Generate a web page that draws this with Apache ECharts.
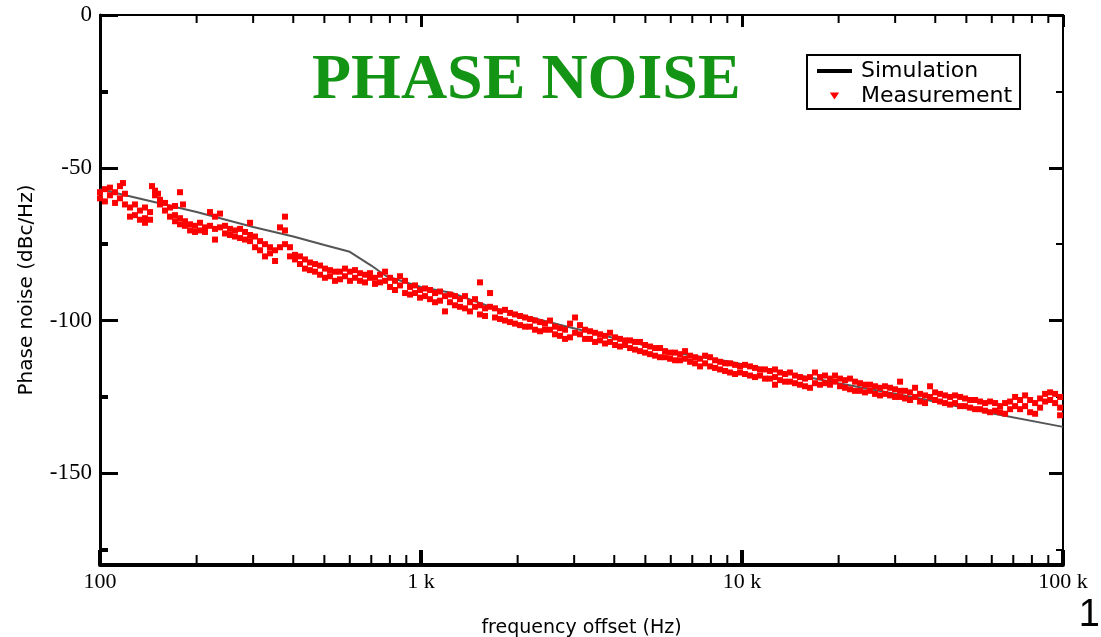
<!DOCTYPE html>
<html>
<head>
<meta charset="utf-8">
<title>Phase noise</title>
<script src="https://cdn.jsdelivr.net/npm/echarts@6.0.0/dist/echarts.min.js"></script>
<style>
  html, body { margin: 0; padding: 0; background: #fff; }
  #chart { width: 1101px; height: 637px; }
</style>
</head>
<body>
<div id="chart"></div>
<script>
// axis ranges
const xMin = 100;
const xMax = 100000;
const yMin = -180;
const yMax = 0;

// tick values
const xMinorTicks = [200, 300, 400, 500, 600, 700, 800, 900,
  2000, 3000, 4000, 5000, 6000, 7000, 8000, 9000,
  20000, 30000, 40000, 50000, 60000, 70000, 80000, 90000];
const yMajorTicks = [-150, -100, -50, 0];
const yMinorTicks = [-175, -125, -75, -25];

// simulation curve [Hz, dBc/Hz]
const simulation = [
  [100, -57], [200, -64.5], [300, -69.4], [400, -72.5], [500, -75.3], [600, -77.5],
  [700, -82], [780, -85.5], [1000, -89], [1250, -91], [1700, -96], [2860, -102],
  [4500, -107], [6200, -110.5], [9000, -113.3], [20000, -120.5], [34600, -125.2],
  [55000, -129.6], [100000, -134.8]
];

// measured points [Hz, dBc/Hz]
const measurement = [
  [100, -58], [100, -60], [103.6, -57], [103.6, -61], [107.4, -59], [107.4, -56.5],
  [111.4, -58], [111.4, -61.5], [115.4, -56], [115.4, -60], [117.9, -55],
  [119.6, -58.5], [119.6, -62], [124, -63], [124, -66], [128.5, -62], [128.5, -65.5],
  [133.2, -64], [133.2, -67], [138.1, -63], [138.1, -66.5], [138.1, -68],
  [143.2, -64.5], [143.2, -67], [145.2, -56], [148.4, -57.5], [148.4, -59], [151.6, -58.5],
  [153.8, -60.5], [153.8, -62], [159.4, -61.5], [159.4, -64], [165.2, -63], [165.2, -66],
  [171.3, -62.5], [171.3, -65.5], [171.3, -67.5], [177.5, -58], [177.5, -66.5], [177.5, -68.5],
  [181.4, -62], [184, -67.5], [184, -69], [190.8, -68.5], [190.8, -70.5],
  [197.7, -69], [197.7, -71], [204.9, -68], [204.9, -70.5], [212.4, -69.5], [212.4, -71],
  [220.1, -64.5], [220.1, -69], [228.2, -66], [228.2, -70], [228.2, -73.5],
  [236.5, -65], [236.5, -69.5], [245.2, -69], [245.2, -71.5], [254.1, -70], [254.1, -72],
  [263.4, -70.5], [263.4, -72.5], [273.1, -70], [273.1, -73], [283, -71], [283, -73.5],
  [293.4, -68], [293.4, -72], [293.4, -74], [304.1, -72.5], [304.1, -76],
  [315.2, -74], [315.2, -77], [326.6, -75], [326.6, -79], [338.5, -76], [338.5, -78],
  [351, -77], [351, -80.5], [363.7, -69.5], [363.7, -76], [377, -66], [377, -70.5], [377, -75],
  [390.8, -76], [390.8, -79], [405.1, -78.5], [405.1, -80], [419.8, -79], [419.8, -81.5],
  [435.2, -80], [435.2, -83], [451.1, -81], [451.1, -83.5], [467.6, -81.5], [467.6, -84],
  [484.7, -82], [484.7, -85], [502.1, -83], [502.1, -86], [520.6, -83.5], [520.6, -85.5],
  [539.6, -84], [539.6, -87], [559.3, -84], [559.3, -86.5], [579.8, -83], [579.8, -85.5],
  [600.9, -84], [600.9, -87], [622.9, -83.5], [622.9, -86], [645.7, -84.5], [645.7, -87],
  [669.2, -85], [669.2, -87.5], [693.7, -84.5], [693.7, -86], [719.1, -86], [719.1, -88],
  [745.4, -85], [745.4, -87.5], [772.7, -84], [772.7, -87], [800.9, -86], [800.9, -89],
  [830, -87], [830, -90], [860.4, -85.5], [860.4, -88.5], [891.9, -87], [891.9, -91],
  [924.4, -89], [924.4, -91.5], [958, -88.5], [958, -91], [993, -90], [993, -92.5],
  [1029, -89.5], [1029, -92], [1067, -90], [1067, -93], [1106, -91], [1106, -94],
  [1146, -90.5], [1146, -93.5], [1188, -92], [1188, -97], [1231, -91.5], [1231, -94],
  [1276, -92], [1276, -95], [1323, -93], [1323, -95.5], [1371, -92], [1371, -96],
  [1421, -94], [1421, -97], [1473, -93], [1473, -95.5], [1527, -87.5], [1527, -95], [1527, -98],
  [1583, -96], [1583, -98.5], [1641, -91], [1641, -95.5], [1700, -96], [1700, -99],
  [1763, -97], [1763, -99.5], [1827, -96.5], [1827, -100], [1894, -97.5], [1894, -100.5],
  [1963, -98], [1963, -101], [2035, -98.5], [2035, -101.5], [2109, -99], [2109, -102],
  [2186, -99.5], [2186, -102], [2266, -100], [2266, -103], [2349, -100.5], [2349, -103.5],
  [2434, -101], [2434, -103], [2523, -100], [2523, -103], [2615, -102], [2615, -104.5],
  [2711, -102.5], [2711, -105], [2810, -103], [2810, -106], [2913, -101], [2913, -105.5],
  [3019, -99], [3019, -104], [3129, -101.5], [3129, -104.5], [3244, -103], [3244, -106],
  [3362, -103.5], [3362, -106], [3485, -104], [3485, -107], [3612, -104.5], [3612, -106.5],
  [3744, -105], [3744, -107.5], [3881, -104], [3881, -107], [4023, -105.5], [4023, -108],
  [4169, -106], [4169, -108.5], [4322, -106.5], [4322, -108], [4480, -106.5], [4480, -109],
  [4643, -107], [4643, -109.5], [4813, -107], [4813, -110], [4989, -108], [4989, -110.5],
  [5171, -108.5], [5171, -111], [5360, -109], [5360, -111.5], [5555, -109], [5555, -112],
  [5758, -110], [5758, -112], [5969, -110.5], [5969, -112.5], [6187, -110.5], [6187, -113],
  [6413, -111], [6413, -113], [6647, -110], [6647, -112.5], [6890, -111.5], [6890, -113.5],
  [7141, -112], [7141, -114], [7402, -112.5], [7402, -115], [7673, -111.5], [7673, -114],
  [7953, -112], [7953, -115], [8243, -113], [8243, -115.5], [8544, -113.5], [8544, -116],
  [8857, -114], [8857, -116.5], [9180, -114], [9180, -117], [9515, -114.5], [9515, -117.5],
  [9863, -115], [9863, -117], [10217, -114.5], [10217, -117.5], [10590, -115], [10590, -118],
  [10977, -115.5], [10977, -118.5], [11378, -116], [11378, -118], [11794, -116], [11794, -119],
  [12225, -116.5], [12225, -119], [12671, -116], [12671, -118.5], [12671, -121],
  [13134, -117], [13134, -119.5], [13614, -117.5], [13614, -120], [14111, -117], [14111, -120],
  [14627, -118], [14627, -120.5], [15161, -118.5], [15161, -121], [15715, -119], [15715, -121.5],
  [16289, -118.5], [16289, -122], [16884, -117], [16884, -120.5], [17501, -118.5], [17501, -121],
  [18140, -118], [18140, -120.5], [18803, -119], [18803, -121], [19490, -118], [19490, -120],
  [20202, -119], [20202, -121.5], [20940, -119.5], [20940, -122], [21705, -119], [21705, -122.5],
  [22498, -120], [22498, -123], [23320, -120.5], [23320, -123], [24172, -121], [24172, -123.5],
  [25055, -121], [25055, -123], [25970, -121.5], [25970, -124], [26918, -122], [26918, -124.5],
  [27901, -121.5], [27901, -124], [28920, -122], [28920, -124.5], [29977, -122.5], [29977, -125],
  [31072, -120], [31072, -123], [31072, -125], [32207, -123], [32207, -125.5],
  [33383, -123.5], [33383, -126], [34602, -122], [34602, -125], [35866, -124], [35866, -126.5],
  [37176, -124.5], [37176, -127], [38534, -121.5], [38534, -125], [39942, -123.5], [39942, -126],
  [41401, -124], [41401, -126.5], [42913, -124.5], [42913, -127], [44481, -125], [44481, -127.5],
  [46106, -124.5], [46106, -127], [47790, -125], [47790, -128], [49536, -125.5], [49536, -128],
  [51345, -126], [51345, -128.5], [53221, -126], [53221, -129], [55165, -126.5], [55165, -129],
  [57180, -127], [57180, -129.5], [59269, -126.5], [59269, -130], [61434, -127], [61434, -129.5],
  [63678, -128], [63678, -130], [66004, -127], [66004, -130.5], [68415, -126.5], [68415, -129],
  [70914, -125], [70914, -128], [73505, -126], [73505, -129], [76190, -124.5], [76190, -128],
  [78973, -126], [78973, -130], [81858, -127], [81858, -130.5], [84848, -125.5], [84848, -128.5],
  [87947, -124], [87947, -126.5], [91160, -123.5], [91160, -126], [94490, -124], [94490, -127],
  [97941, -125], [97941, -128.5], [97941, -131]
];

const chart = echarts.init(document.getElementById('chart'));

const serif = 'Liberation Serif';
const sans = 'DejaVu Sans';

function freqLabel(v) {
  if (v >= 1000) return (v / 1000) + ' k';
  return String(v);
}

// extra y axes only carry ticks (minor ticks, right-hand frame)
function tickAxis(position, values, length, width, showLine) {
  return {
    type: 'value',
    min: yMin,
    max: yMax,
    position: position,
    axisLine: { show: showLine, onZero: false, lineStyle: { color: '#000', width: 2 } },
    axisTick: { show: true, inside: true, length: length, customValues: values,
      lineStyle: { color: '#000', width: width } },
    axisLabel: { show: false },
    splitLine: { show: false }
  };
}

const option = {
  backgroundColor: '#fff',
  animation: false,
  title: {
    text: 'PHASE NOISE',
    left: 312,
    top: 49,
    padding: 0,
    textStyle: { fontFamily: serif, fontWeight: 'bold', fontSize: 64, color: '#149414' }
  },
  legend: {
    orient: 'vertical',
    left: 807,
    top: 55,
    padding: [5, 8, 2, 10],
    itemGap: 3,
    itemWidth: 35,
    itemHeight: 7,
    borderColor: '#000',
    borderWidth: 2,
    textStyle: { fontFamily: sans, fontSize: 22, color: '#000', padding: [0, 0, 0, 4] },
    data: [
      { name: 'Simulation', icon: 'path://M0,0L36,0L36,4L0,4Z', itemStyle: { color: '#000' } },
      { name: 'Measurement', icon: 'path://M0,0L8,0L4,6Z', itemStyle: { color: '#ff0000' } }
    ]
  },
  grid: { left: 100, right: 38, top: 15, bottom: 72, containLabel: false, outerBoundsMode: 'none' },
  xAxis: [
    {
      type: 'log',
      logBase: 10,
      min: xMin,
      max: xMax,
      position: 'bottom',
      name: 'frequency offset (Hz)',
      nameLocation: 'middle',
      nameGap: 54,
      nameTextStyle: { fontFamily: sans, fontSize: 19, color: '#000' },
      axisLine: { onZero: false, lineStyle: { color: '#000', width: 4 } },
      axisTick: { inside: true, length: 15, lineStyle: { color: '#000', width: 4 } },
      axisLabel: { formatter: freqLabel, fontFamily: serif, fontSize: 22, color: '#000', margin: 6 },
      splitLine: { show: false }
    },
    {
      type: 'log',
      logBase: 10,
      min: xMin,
      max: xMax,
      position: 'top',
      axisLine: { onZero: false, lineStyle: { color: '#000', width: 2 } },
      axisTick: { inside: true, length: 12, lineStyle: { color: '#000', width: 3 } },
      axisLabel: { show: false },
      splitLine: { show: false }
    }
  ],
  yAxis: [
    {
      type: 'value',
      min: yMin,
      max: yMax,
      position: 'left',
      name: 'Phase noise (dBc/Hz)',
      nameLocation: 'middle',
      nameGap: 63,
      nameTextStyle: { fontFamily: sans, fontSize: 20, color: '#000' },
      axisLine: { show: true, onZero: false, lineStyle: { color: '#000', width: 3 } },
      axisTick: { show: true, inside: true, length: 18, customValues: yMajorTicks,
        lineStyle: { color: '#000', width: 3 } },
      axisLabel: { customValues: yMajorTicks, fontFamily: serif, fontSize: 23, color: '#000', margin: 8 },
      splitLine: { show: false }
    },
    tickAxis('left', yMinorTicks, 8, 4, false),
    tickAxis('right', yMajorTicks, 14, 3, true),
    tickAxis('right', yMinorTicks, 7, 2, false)
  ],
  graphic: [
    {
      type: 'text',
      right: 1,
      top: 597,
      style: { text: '1', font: '38px "Liberation Sans"', fill: '#000' }
    }
  ],
  series: [
    {
      name: 'Measurement',
      type: 'scatter',
      symbol: 'rect',
      symbolSize: 6,
      itemStyle: { color: '#ff0000', opacity: 1 },
      data: measurement,
      z: 3
    },
    {
      name: 'Simulation',
      type: 'line',
      symbol: 'none',
      smooth: false,
      lineStyle: { color: '#555', width: 2 },
      data: simulation,
      z: 2
    },
    {
      // minor log ticks (2..9 per decade) on bottom and top edges
      type: 'custom',
      silent: true,
      clip: false,
      z: 5,
      data: xMinorTicks.map(f => [f, yMin]),
      renderItem: function (params, api) {
        const f = api.value(0);
        const b = api.coord([f, yMin]);
        const t = api.coord([f, yMax]);
        return {
          type: 'group',
          children: [
            { type: 'line', shape: { x1: b[0], y1: b[1], x2: b[0], y2: b[1] - 10 },
              style: { stroke: '#000', lineWidth: 2 } },
            { type: 'line', shape: { x1: t[0], y1: t[1], x2: t[0], y2: t[1] + 8 },
              style: { stroke: '#000', lineWidth: 2 } }
          ]
        };
      }
    }
  ]
};

chart.setOption(option);
</script>
</body>
</html>
